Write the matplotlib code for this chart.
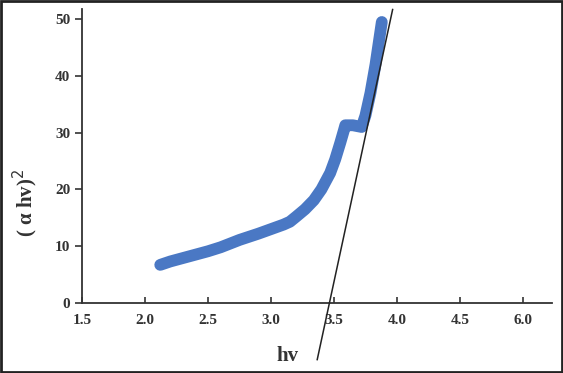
import matplotlib
matplotlib.use("Agg")
import matplotlib.pyplot as plt
from matplotlib.patches import Rectangle

# Data
hv = [2.12, 2.20, 2.30, 2.40, 2.50, 2.60, 2.75, 2.90, 3.00, 3.10, 3.15, 3.20,
      3.27, 3.34, 3.40, 3.47, 3.51, 3.55, 3.58, 3.59, 3.65, 3.72,
      3.75, 3.79, 3.83, 3.86, 3.88]
ahv2 = [6.7, 7.3, 7.9, 8.5, 9.1, 9.8, 11.1, 12.2, 13.0, 13.8, 14.3, 15.2,
        16.5, 18.1, 20.0, 22.9, 25.3, 28.2, 30.5, 31.3, 31.3, 31.0,
        33.0, 37.0, 42.0, 46.5, 49.5]
fit_x = [3.367, 3.966]
fit_y = [-10.0, 51.7]
tick_pos = [1.5, 2.0, 2.5, 3.0, 3.5, 4.0, 4.5, 5.0]
tick_labels = ["1.5", "2.0", "2.5", "3.0", "3.5", "4.0", "4.5", "6.0"]
y_ticks = [0, 10, 20, 30, 40, 50]

plt.rcParams['font.family'] = ['Liberation Serif', 'DejaVu Serif']

fig = plt.figure(figsize=(5.63, 3.73), dpi=100)
ax = fig.add_axes([0.146, 0.188, 0.834, 0.788])

ax.plot(hv, ahv2, color='#4a78c4', lw=8.5, solid_capstyle='round',
        solid_joinstyle='round', zorder=2)
ax.plot(fit_x, fit_y, color='#222222', lw=1.1, clip_on=False, zorder=3)

ax.set_xlim(1.5, 5.23)
ax.set_ylim(0, 51.8)
ax.set_xticks(tick_pos)
ax.set_xticklabels(tick_labels)
ax.set_yticks(y_ticks)
for s in ['top', 'right']:
    ax.spines[s].set_visible(False)
for s in ['left', 'bottom']:
    ax.spines[s].set_linewidth(1.3)
    ax.spines[s].set_color('#333333')
ax.tick_params(axis='x', direction='in', length=4, width=1.2, labelsize=11, pad=8, colors='#333333')
ax.tick_params(axis='y', direction='out', length=5, width=1.2, labelsize=11, colors='#333333')
for lab in ax.get_xticklabels() + ax.get_yticklabels():
    lab.set_fontweight('bold')

fig.text(0.51, 0.045, 'hv', ha='center', va='center', fontsize=15,
         fontweight='bold', color='#333333')
fig.text(0.045, 0.455, '( α hv)$^2$', ha='center', va='center', rotation=90,
         fontsize=15, fontweight='bold', color='#333333')

fig.patches.append(Rectangle((0.002, 0.003), 0.996, 0.994, transform=fig.transFigure,
                             fill=False, edgecolor='#222222', lw=2))

fig.savefig('out.png', dpi=100)
